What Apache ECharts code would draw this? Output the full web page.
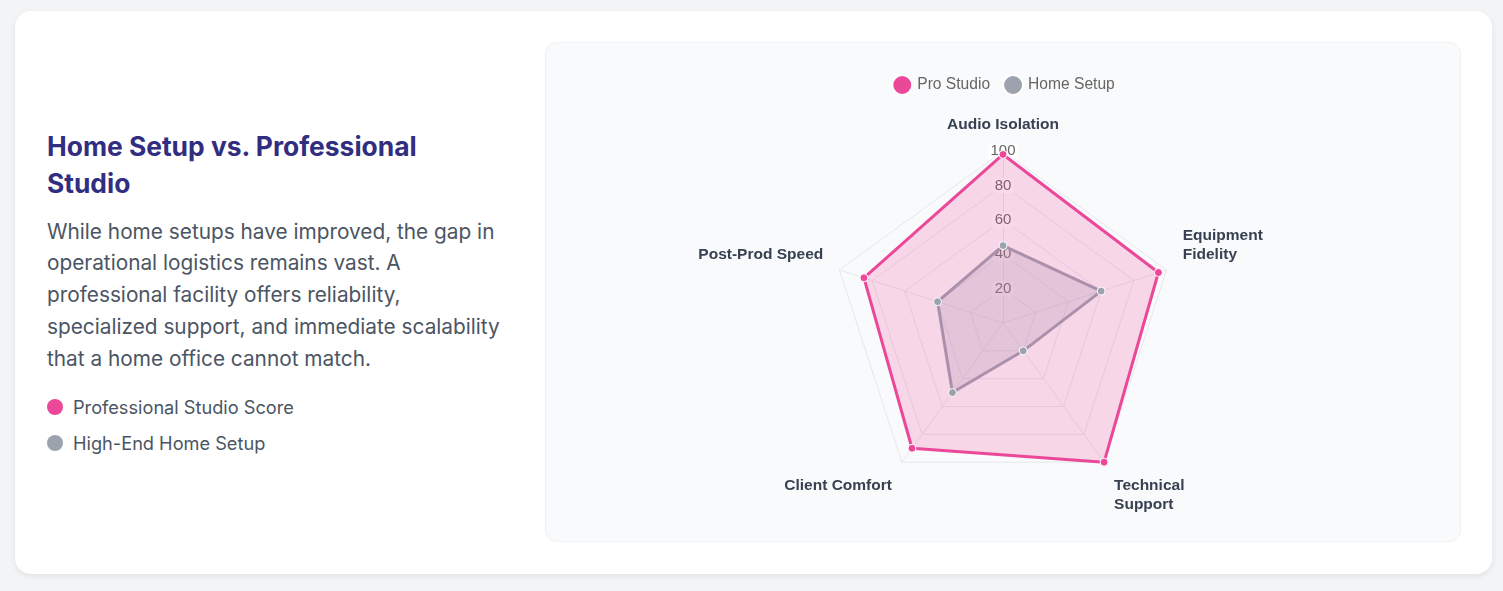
<!DOCTYPE html>
<html>
<head>
<meta charset="utf-8">
<script src="https://cdn.jsdelivr.net/npm/echarts@6/dist/echarts.min.js"></script>
<style>
  html, body { margin: 0; padding: 0; background: #f3f4f6; }
  body { width: 1503px; height: 591px; position: relative; font-family: Inter, 'Noto Sans', sans-serif; }
  .card {
    position: absolute; left: 15px; top: 11px; width: 1477px; height: 563px;
    background: #fff; border-radius: 16px; box-shadow: 0 2px 6px rgba(0,0,0,0.08);
    box-sizing: border-box; padding: 31px 31px 32px 32px; display: flex; align-items: center;
  }
  .left { width: 462px; margin-right: 36px; padding-top: 5px; }
  .left h2 { margin: 0 0 14px 0; max-width: 440px; font-size: 26.4px; line-height: 37px; font-weight: 700; color: #312e81; }
  .left p { margin: 0 0 15px 0; font-size: 20.8px; line-height: 31.75px; color: #4b5563; }
  .key { display: flex; align-items: center; font-size: 18.2px; color: #4b5563; height: 36px; }
  .dot { width: 16px; height: 16px; border-radius: 50%; margin-right: 10px; }
  #chart { width: 916px; height: 500px; background: #f9fafb; border: 1px solid #f0f1f3; border-radius: 12px; box-sizing: border-box; }
</style>
</head>
<body>
<div class="card">
  <div class="left">
    <h2>Home Setup vs. Professional Studio</h2>
    <p>While home setups have improved, the gap in operational logistics remains vast. A professional facility offers reliability, specialized support, and immediate scalability that a home office cannot match.</p>
    <div class="key"><span class="dot" style="background:#ec4899"></span>Professional Studio Score</div>
    <div class="key"><span class="dot" style="background:#9ca3af"></span>High-End Home Setup</div>
  </div>
  <div id="chart"></div>
</div>
<script>
// axes listed from the top going counter-clockwise (ECharts order)
const categories = ['Audio Isolation', 'Post-Prod Speed', 'Client Comfort', 'Technical\nSupport', 'Equipment\nFidelity'];
const proStudio = [98, 85, 90, 100, 95];
const homeSetup = [45, 40, 50, 20, 60];
const seriesNames = ['Pro Studio', 'Home Setup'];

const chartFont = "'Liberation Sans', Arial, sans-serif";

let myChart = echarts.init(document.getElementById('chart'));
myChart.setOption({
    legend: {
        data: seriesNames,
        top: 26,
        left: 'center',
        icon: 'circle',
        itemWidth: 20,
        itemHeight: 20,
        itemGap: 12,
        textStyle: { color: '#666', fontSize: 15.6, fontFamily: chartFont }
    },
    radar: {
        center: ['50%', 280],
        radius: 172,
        startAngle: 90,
        splitNumber: 5,
        nameGap: 17,
        axisName: { color: '#374151', fontWeight: 'bold', fontSize: 15.5, fontFamily: chartFont, lineHeight: 19 },
        splitLine: { lineStyle: { color: '#e5e7eb', width: 1 } },
        splitArea: { show: false },
        axisLine: { lineStyle: { color: '#e5e7eb' } },
        axisTick: { show: false },
        axisLabel: { show: false },
        indicator: categories.map(function (name, i) {
            let ind = { name: name, min: 0, max: 100 };
            // labels above the centre sit on their point, labels below hang from it
            let ang = (90 + i * 360 / categories.length) * Math.PI / 180;
            ind.nameTextStyle = { verticalAlign: Math.sin(ang) > 0 ? 'bottom' : 'top' };
            if (i === 0) {
                ind.nameTextStyle.align = 'center';
                ind.axisLabel = {
                    show: true,
                    showMinLabel: false,
                    margin: 0,
                    align: 'center',
                    verticalAlign: 'middle',
                    color: '#666',
                    fontSize: 15,
                    fontFamily: chartFont,
                    backgroundColor: 'rgba(255,255,255,0.75)',
                    padding: [0, 2]
                };
            } else {
                ind.axisLabel = { show: false };
            }
            return ind;
        })
    },
    series: [
        {
            name: 'Home Setup',
            type: 'radar',
            symbol: 'circle',
            symbolSize: 8,
            itemStyle: { color: '#9ca3af', borderColor: '#fff', borderWidth: 1 },
            lineStyle: { color: '#9ca3af', width: 3 },
            areaStyle: { color: 'rgba(156,163,175,0.25)', opacity: 1 },
            data: [{ value: homeSetup, name: 'Home Setup' }]
        },
        {
            name: 'Pro Studio',
            type: 'radar',
            symbol: 'circle',
            symbolSize: 8,
            itemStyle: { color: '#ec4899', borderColor: '#fff', borderWidth: 1 },
            lineStyle: { color: '#ec4899', width: 3 },
            areaStyle: { color: 'rgba(236,72,153,0.2)', opacity: 1 },
            data: [{ value: proStudio, name: 'Pro Studio' }]
        }
    ]
});
</script>
</body>
</html>
